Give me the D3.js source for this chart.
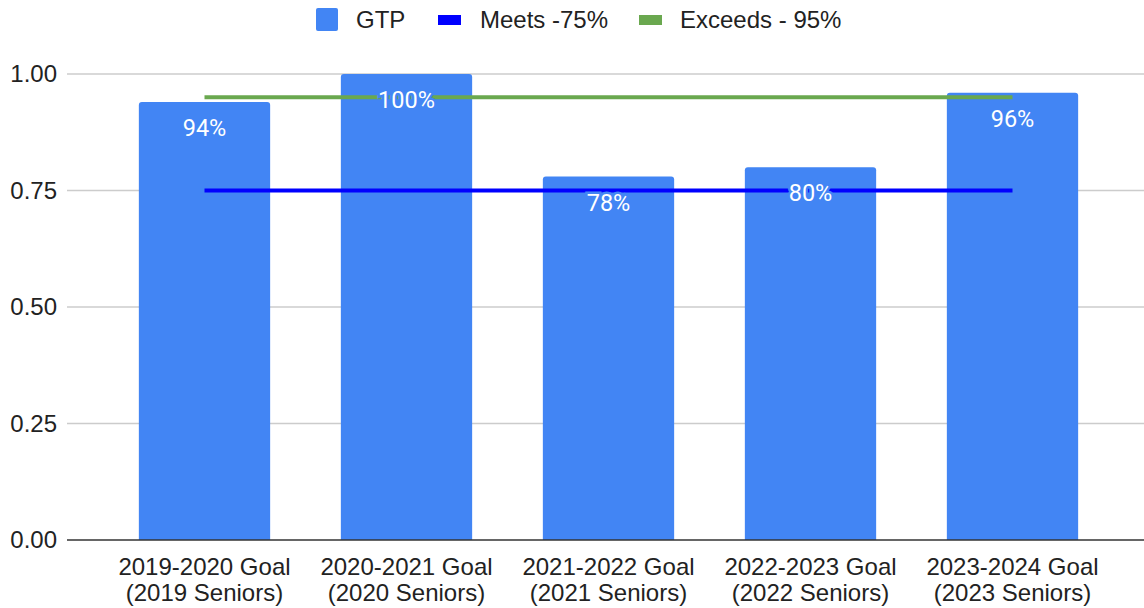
<!DOCTYPE html>
<html>
<head>
<meta charset="utf-8">
<script src="https://cdn.jsdelivr.net/npm/d3@7"></script>
<style>
  body { margin: 0; background: #fff; }
  svg { display: block; }
</style>
</head>
<body>
<div id="chart"></div>
<script>
(function () {

    // data
    var categories = [
        ["2019-2020 Goal", "(2019 Seniors)"],
        ["2020-2021 Goal", "(2020 Seniors)"],
        ["2021-2022 Goal", "(2021 Seniors)"],
        ["2022-2023 Goal", "(2022 Seniors)"],
        ["2023-2024 Goal", "(2023 Seniors)"]
    ];
    var gtp = [0.94, 1.00, 0.78, 0.80, 0.96];
    var meets = [0.75, 0.75, 0.75, 0.75, 0.75];
    var exceeds = [0.95, 0.95, 0.95, 0.95, 0.95];
    var yTicks = [0, 0.25, 0.5, 0.75, 1.0];
    var legendNames = ["GTP", "Meets -75%", "Exceeds - 95%"];

    var colors = { bar: "#4285f4", meets: "#0000ff", exceeds: "#6aa84f" };

    var width = 1144, height = 608;
    var margin = { top: 74, right: 30, bottom: 68, left: 67 };
    var font = "'Liberation Sans', Arial, sans-serif";

    var svg = d3.select("#chart").append("svg")
        .attr("width", width)
        .attr("height", height);

    var x = d3.scaleBand()
        .domain(d3.range(categories.length))
        .range([103.5, 1113.5])
        .paddingInner(0.35)
        .paddingOuter(0.175);

    var y = d3.scaleLinear()
        .domain([0, 1])
        .range([height - margin.bottom, margin.top]);

    //gridlines
    svg.append("g").selectAll("line")
        .data(yTicks.slice(1))
        .enter().append("line")
        .attr("x1", margin.left)
        .attr("x2", width)
        .attr("y1", function (d) { return y(d); })
        .attr("y2", function (d) { return y(d); })
        .attr("stroke", "#cccccc")
        .attr("stroke-width", 1.5);

    //y tick labels
    svg.append("g").selectAll("text")
        .data(yTicks)
        .enter().append("text")
        .attr("x", 57)
        .attr("y", function (d) { return y(d); })
        .attr("dy", "0.35em")
        .attr("text-anchor", "end")
        .style("font-family", font)
        .style("font-size", "24px")
        .style("fill", "#222")
        .text(function (d) { return d3.format(".2f")(d); });

    //bars
    svg.append("g").selectAll("path")
        .data(gtp)
        .enter().append("path")
        .attr("fill", colors.bar)
        .attr("d", function (d, i) {
            var x0 = x(i), w = x.bandwidth(), y0 = y(d), y1 = y(0), r = 3;
            return "M" + x0 + "," + y1 +
                "V" + (y0 + r) +
                "Q" + x0 + "," + y0 + " " + (x0 + r) + "," + y0 +
                "H" + (x0 + w - r) +
                "Q" + (x0 + w) + "," + y0 + " " + (x0 + w) + "," + (y0 + r) +
                "V" + y1 + "Z";
        });

    //baseline
    svg.append("line")
        .attr("x1", margin.left)
        .attr("x2", width)
        .attr("y1", y(0))
        .attr("y2", y(0))
        .attr("stroke", "#333")
        .attr("stroke-width", 1.5);

    //target lines
    var line = d3.line()
        .x(function (d, i) { return x(i) + x.bandwidth() / 2; })
        .y(function (d) { return y(d); });

    svg.append("path")
        .datum(exceeds)
        .attr("fill", "none")
        .attr("stroke", colors.exceeds)
        .attr("stroke-width", 4)
        .attr("d", line);

    svg.append("path")
        .datum(meets)
        .attr("fill", "none")
        .attr("stroke", colors.meets)
        .attr("stroke-width", 4)
        .attr("d", line);

    //value labels
    svg.append("g").selectAll("text")
        .data(gtp)
        .enter().append("text")
        .attr("x", function (d, i) { return x(i) + x.bandwidth() / 2; })
        .attr("y", function (d) { return y(d) + 34; })
        .attr("text-anchor", "middle")
        .style("font-family", "Roboto, sans-serif")
        .style("font-size", "23.5px")
        .style("fill", "#fff")
        .style("stroke", colors.bar)
        .style("stroke-width", 5)
        .style("paint-order", "stroke")
        .text(function (d) { return d3.format(".0%")(d); });

    //x axis labels
    var xl = svg.append("g").selectAll("text")
        .data(categories)
        .enter().append("text")
        .attr("text-anchor", "middle")
        .style("font-family", font)
        .style("font-size", "24px")
        .style("fill", "#222");

    xl.selectAll("tspan")
        .data(function (d, i) { return d.map(function (t) { return { t: t, i: i }; }); })
        .enter().append("tspan")
        .attr("x", function (d) { return x(d.i) + x.bandwidth() / 2; })
        .attr("y", function (d, j) { return 575 + j * 26; })
        .text(function (d) { return d.t; });

    //legend
    var legend = svg.append("g");
    var lx = [316, 438, 639];
    var tx = [356, 480, 680];

    legend.append("rect")
        .attr("x", lx[0]).attr("y", 8)
        .attr("width", 22).attr("height", 23)
        .attr("rx", 2)
        .attr("fill", colors.bar);
    legend.append("rect")
        .attr("x", lx[1]).attr("y", 15)
        .attr("width", 23).attr("height", 10)
        .attr("fill", colors.meets);
    legend.append("rect")
        .attr("x", lx[2]).attr("y", 15)
        .attr("width", 23).attr("height", 10)
        .attr("fill", colors.exceeds);

    legend.selectAll("text")
        .data(legendNames)
        .enter().append("text")
        .attr("x", function (d, i) { return tx[i]; })
        .attr("y", 20)
        .attr("dy", "0.35em")
        .style("font-family", font)
        .style("font-size", "24px")
        .style("fill", "#222")
        .text(function (d) { return d; });

})()
</script>
</body>
</html>
